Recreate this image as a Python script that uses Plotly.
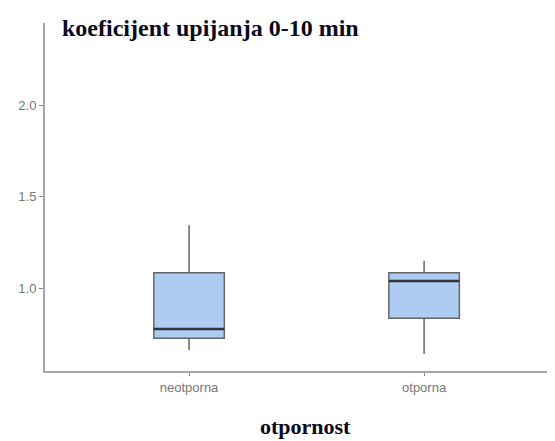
import plotly.graph_objects as go

categories = ["neotporna", "otporna"]
lower_whisker = [0.661, 0.639]
q1_values = [0.725, 0.834]
median_values = [0.776, 1.038]
q3_values = [1.084, 1.084]
upper_whisker = [1.344, 1.149]
y_tick_values = [1.0, 1.5, 2.0]
y_tick_labels = ["1.0", "1.5", "2.0"]
title_text = "koeficijent upijanja 0-10 min"
x_title_text = "otpornost"

box_width = 0.30

fig = go.Figure()
fig.add_trace(go.Box(
    x=categories,
    q1=q1_values,
    median=median_values,
    q3=q3_values,
    lowerfence=lower_whisker,
    upperfence=upper_whisker,
    width=box_width,
    whiskerwidth=0,
    fillcolor="#aecbf2",
    line=dict(color="#666666", width=1.5),
    boxpoints=False,
    showlegend=False,
    hoverinfo="skip",
))

# darker, thicker median lines drawn over the boxes
for i, m in enumerate(median_values):
    fig.add_shape(
        type="line", xref="x", yref="y",
        x0=i - box_width / 2, x1=i + box_width / 2, y0=m, y1=m,
        line=dict(color="#333333", width=2.5), layer="above",
    )

# page body has an 8px default margin; figure coords = screen coords - 8
W, H = 555, 441
fig.update_layout(
    width=W, height=H,
    margin=dict(l=37, r=8, t=15, b=78, autoexpand=False),
    paper_bgcolor="white", plot_bgcolor="white",
    title=dict(
        text=f"<b>{title_text}</b>",
        font=dict(family="Liberation Serif", size=24, color="#0a0a1a"),
        xref="container", yref="container",
        x=54 / W, xanchor="left", y=1 - 20 / H, yanchor="middle",
    ),
    xaxis=dict(
        range=[-0.613, 1.557],
        showline=True, linecolor="#a6a6a6", linewidth=2,
        ticks="outside", ticklen=3, tickcolor="#888888", tickwidth=1,
        showgrid=False, zeroline=False,
        tickfont=dict(family="Liberation Sans", size=13, color="#777777"),
    ),
    yaxis=dict(
        range=[0.546, 2.45],
        tickvals=y_tick_values, ticktext=y_tick_labels,
        showline=True, linecolor="#a6a6a6", linewidth=2,
        ticks="outside", ticklen=4, tickcolor="#888888", tickwidth=1,
        showgrid=False, zeroline=False,
        tickfont=dict(family="Liberation Sans", size=13, color="#777777"),
    ),
    annotations=[dict(
        text=f"<b>{x_title_text}</b>", xref="paper", yref="paper",
        x=(305 - 45) / 510, y=-(426 - 371) / 348,
        xanchor="center", yanchor="middle", showarrow=False,
        font=dict(family="Liberation Serif", size=22, color="#0a0a1a"),
    )],
)

fig.write_html("out.html")
